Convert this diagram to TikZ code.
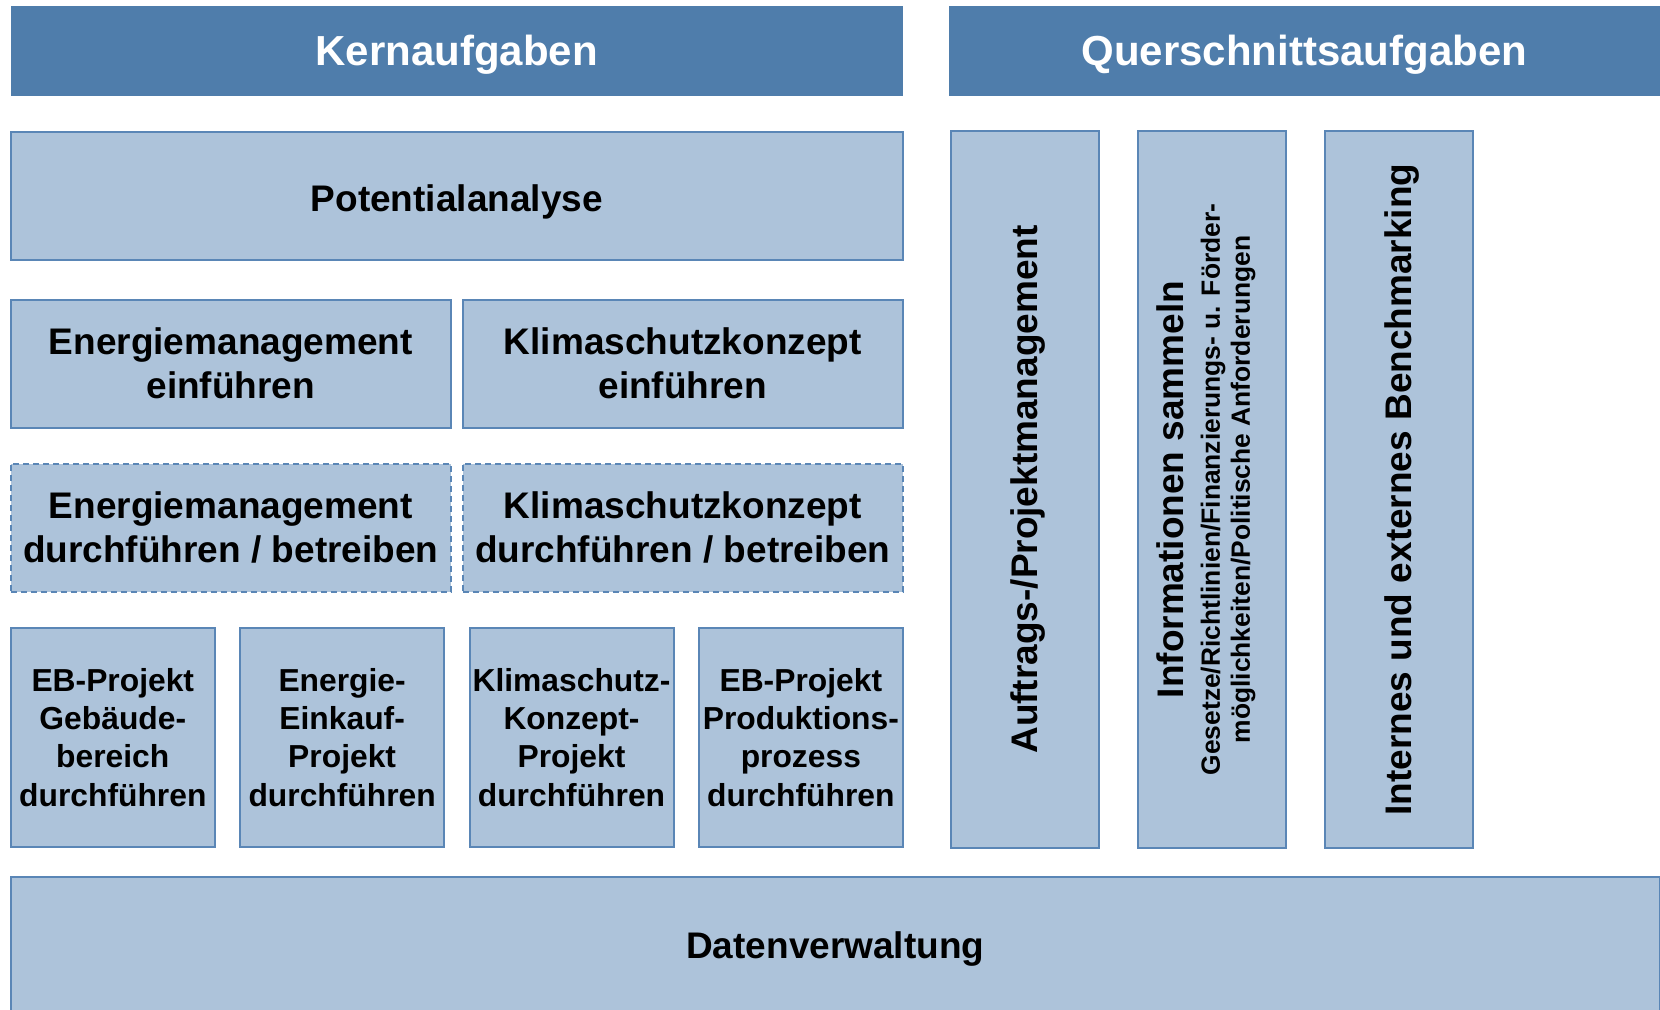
\documentclass[tikz,border=0pt]{standalone}
\usepackage{fontspec}
\setmainfont{Liberation Sans}

\definecolor{headblue}{HTML}{4F7DAB}
\definecolor{boxblue}{HTML}{ADC3DA}
\definecolor{lineblue}{HTML}{5A86B6}

\tikzset{
  headbox/.style={fill=headblue, text=white, inner sep=0pt, minimum height=45pt,
    text height=19pt, text depth=4.45pt, font=\bfseries\fontsize{21}{25}\selectfont},
  taskbox/.style={draw=lineblue, fill=boxblue, line width=1pt, inner sep=0pt, align=center,
    font=\bfseries\fontsize{18.5}{22}\selectfont},
  oneline/.style={text height=16.7pt, text depth=3.9pt},
  planbox/.style={taskbox, dash pattern=on 3pt off 2pt},
  projbox/.style={taskbox, minimum width=102pt, minimum height=109.6pt,
    font=\bfseries\fontsize{15.9}{19.2}\selectfont},
  sidebox/.style={taskbox, rotate=90, minimum width=358.5pt, minimum height=74pt},
}

\begin{document}
\begin{tikzpicture}[x=0.5pt, y=-0.5pt]
  \useasboundingbox (0,0) rectangle (1660,1010);
  \clip (0,0) rectangle (1660,1010);

  % headers
  \node[headbox, minimum width=446.2pt] (kern) at (456.8,51.4) {Kernaufgaben};
  \node[headbox, minimum width=355.7pt] (quer) at (1304.3,51.4) {Querschnittsaufgaben};

  % core tasks
  \node[taskbox, oneline, text height=19.5pt, minimum width=446.2pt, minimum height=64pt] (pot)
    at (456.8,196) {Potentialanalyse};

  \node[taskbox, minimum width=220.2pt, minimum height=64pt] (emein) at (230.8,363.7)
    {Energiemanagement\\einführen};
  \node[taskbox, minimum width=220.2pt, minimum height=64pt] (kseinf) at (682.8,363.7)
    {Klimaschutzkonzept\\einführen};

  \node[planbox, minimum width=220.2pt, minimum height=64pt] (embetr) at (230.8,527.8)
    {Energiemanagement\\durchführen / betreiben};
  \node[planbox, minimum width=220.2pt, minimum height=64pt] (ksbetr) at (682.8,527.8)
    {Klimaschutzkonzept\\durchführen / betreiben};

  \foreach \i/\txt in {0/{EB-Projekt\\Gebäude-\\bereich\\durchführen},
                       1/{Energie-\\Einkauf-\\Projekt\\durchführen},
                       2/{Klimaschutz-\\Konzept-\\Projekt\\durchführen},
                       3/{EB-Projekt\\Produktions-\\prozess\\durchführen}}
    \node[projbox] (proj\i) at (112.8+229.35*\i,737.4) {\txt};

  % cross-sectional tasks
  \node[sidebox, oneline] (auftrag) at (1025,489.5) {Auftrags-/Projektmanagement};
  \node[sidebox, text depth=8.6pt] (info) at (1212,489.5) {Informationen sammeln\\[-4pt]
    {\fontsize{13.2}{15.9}\selectfont Gesetze/Richtlinien/Finanzierungs- u. Förder-}\\[-7pt]
    {\fontsize{13.2}{15.9}\selectfont möglichkeiten/Politische Anforderungen}};
  \node[sidebox, oneline] (bench) at (1399,489.5) {Internes und externes Benchmarking};

  % data
  \node[taskbox, oneline, minimum width=824.7pt, minimum height=68.8pt] (daten) at (835.3,945.3) {Datenverwaltung};
\end{tikzpicture}
\end{document}
